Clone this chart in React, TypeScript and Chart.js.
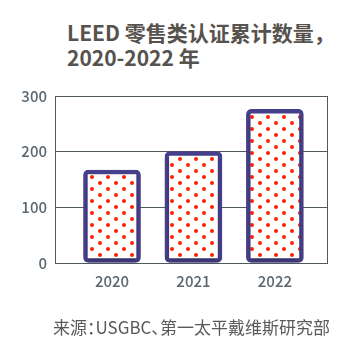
import React, { useEffect, useRef } from "react";
import { Chart, registerables } from "chart.js";

Chart.register(...registerables);

const years = [2020, 2021, 2022];
const counts = [167, 200, 276];
const yTicks = [0, 100, 200, 300];
const titleLines = ["LEED 零售类认证累计数量，", "2020-2022 年"];
const sourceText = "来源：USGBC、第一太平戴维斯研究部";

function makePattern(): CanvasPattern | string {
  const c = document.createElement("canvas");
  c.width = 16;
  c.height = 12;
  const g = c.getContext("2d");
  if (!g) return "#fff";
  g.fillStyle = "#ffffff";
  g.fillRect(0, 0, 16, 12);
  g.fillStyle = "#ff2200";
  const dots = [
    [4, 3],
    [12, 9],
  ];
  for (const [x, y] of dots) {
    g.beginPath();
    g.arc(x, y, 2, 0, Math.PI * 2);
    g.fill();
  }
  const p = g.createPattern(c, "repeat");
  return p || "#fff";
}

const frame = {
  id: "frame",
  afterDatasetsDraw(chart: any) {
    const { ctx, chartArea } = chart;
    ctx.save();
    ctx.strokeStyle = "#4f5a60";
    ctx.lineWidth = 1;
    ctx.strokeRect(
      Math.round(chartArea.left) + 0.5,
      Math.round(chartArea.top) + 0.5,
      Math.round(chartArea.right - chartArea.left),
      Math.round(chartArea.bottom - chartArea.top)
    );
    ctx.restore();
  },
  beforeDatasetDraw(chart: any) {
    const ctx = chart.ctx;
    ctx.save();
    ctx.shadowColor = "rgba(0,0,0,0.25)";
    ctx.shadowBlur = 4;
    ctx.shadowOffsetY = 3;
  },
  afterDatasetDraw(chart: any) {
    chart.ctx.restore();
  },
};

export default function App() {
  const ref = useRef<HTMLCanvasElement | null>(null);
  useEffect(() => {
    if (!ref.current) return;
    const pattern = makePattern();
    const chart = new Chart(ref.current, {
      type: "bar",
      data: {
        datasets: [
          {
            data: years.map((y, i) => ({ x: y, y: counts[i] })),
            backgroundColor: pattern as any,
            borderColor: "#463f8b",
            borderWidth: 4.5,
            borderRadius: 5,
            borderSkipped: false,
            barThickness: 57,
          },
        ],
      },
      options: {
        animation: false,
        responsive: false,
        maintainAspectRatio: false,
        layout: { padding: { left: 0, right: 33, top: 96, bottom: 62 } },
        plugins: { legend: { display: false }, tooltip: { enabled: false }, title: { display: false } },
        scales: {
          x: {
            type: "linear",
            offset: false,
            min: 2019.3,
            max: 2022.64,
            afterBuildTicks: (s: any) => {
              s.ticks = years.map((v) => ({ value: v }));
            },
            afterFit: (s: any) => {
              s.height = 30;
            },
            grid: { display: false, drawTicks: false },
            border: { display: false },
            ticks: {
              padding: 9,
              color: "#5b6770",
              font: { family: "'Noto Sans CJK SC', 'Noto Sans'", size: 15, weight: 500 as any },
              callback: (v: any) => String(v),
            },
          },
          y: {
            min: 0,
            max: 300,
            afterBuildTicks: (s: any) => {
              s.ticks = yTicks.map((v) => ({ value: v }));
            },
            afterFit: (s: any) => {
              s.width = 55;
            },
            grid: { color: "#4f5a60", lineWidth: 1, drawTicks: false },
            border: { display: false },
            ticks: {
              padding: 8,
              color: "#5b6770",
              font: { family: "'Noto Sans CJK SC', 'Noto Sans'", size: 15, weight: 500 as any },
            },
          },
        },
      },
      plugins: [frame],
    });
    return () => chart.destroy();
  }, []);

  return (
    <div style={{ position: "fixed", left: 0, top: 0, width: 360, height: 355, background: "#fff" }}>
      <div
        style={{
          position: "absolute",
          left: 67,
          top: 20,
          fontFamily: "'Noto Sans CJK SC', 'Noto Sans'",
          fontWeight: 700,
          fontSize: 21,
          lineHeight: "25px",
          color: "#56524d",
          whiteSpace: "nowrap",
        }}
      >
        {titleLines.map((t, i) => (
          <div key={i}>{t}</div>
        ))}
      </div>
      <canvas ref={ref} width={360} height={355} style={{ position: "absolute", left: 0, top: 0 }} />
      <div
        style={{
          position: "absolute",
          left: 53,
          top: 315,
          fontFamily: "'Noto Sans CJK SC', 'Noto Sans'",
          fontSize: 17,
          lineHeight: "24px",
          color: "#5a5a5a",
          whiteSpace: "nowrap",
          fontFeatureSettings: "'palt'",
        }}
      >
        {sourceText}
      </div>
    </div>
  );
}
